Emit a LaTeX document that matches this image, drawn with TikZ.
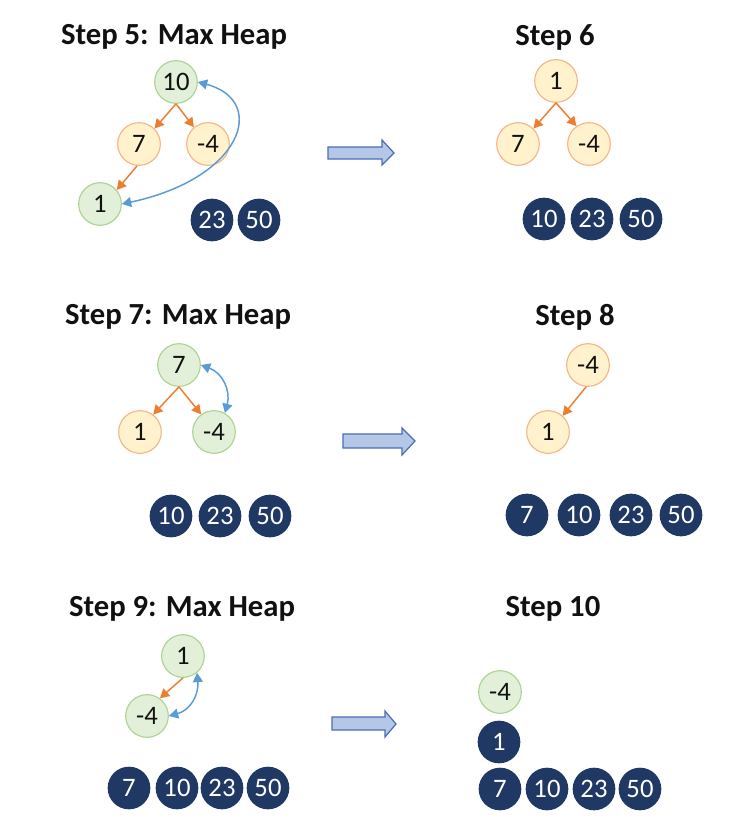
\documentclass[tikz,border=0pt]{standalone}
\usepackage{fontspec}
\setmainfont{Carlito}
\usepackage{xcolor}
\usetikzlibrary{arrows.meta,positioning}
\definecolor{Ink}{HTML}{111111}
\definecolor{LeafGreen}{HTML}{E2F0D9}
\definecolor{LeafGreenLine}{HTML}{A9D18E}
\definecolor{Cream}{HTML}{FFF2CC}
\definecolor{CreamLine}{HTML}{F4B183}
\definecolor{Navy}{HTML}{203864}
\definecolor{Pumpkin}{HTML}{ED7D31}
\definecolor{Sky}{HTML}{5B9BD5}
\definecolor{ArrowFill}{HTML}{B4C7E7}
\definecolor{ArrowLine}{HTML}{4A6DB5}
\tikzset{
  heapnode/.style={circle,minimum size=32pt,inner sep=0pt,line width=0.8pt,font=\fontsize{20}{22}\selectfont,text=Ink},
  swapnode/.style={heapnode,draw=LeafGreenLine,fill=LeafGreen},
  keepnode/.style={heapnode,draw=CreamLine,fill=Cream},
  donenode/.style={heapnode,fill=Navy,text=white},
  steptitle/.style={font=\fontsize{23}{26}\selectfont\bfseries,text=Ink},
  childarrow/.style={-{Triangle[length=7pt,width=7.5pt]},line width=1.1pt,draw=Pumpkin},
  swaparc/.style={{Triangle[length=7pt,width=7.5pt]}-{Triangle[length=7pt,width=7.5pt]},line width=1.1pt,draw=Sky},
  blockarrow/.style={draw=ArrowLine,fill=ArrowFill,line width=0.9pt,line join=miter}
}
\begin{document}
\begin{tikzpicture}[x=0.75pt,y=-0.75pt]
  \useasboundingbox (0,0) rectangle (753,832);
  % step 5
  \node[steptitle] (t5) at (174,37) {Step 5: Max Heap};
  \node[swapnode] (s5a) at (176,82) {10};
  \node[keepnode] (s5b) at (139,144) {7};
  \node[keepnode] (s5c) at (208,144) {-4};
  \node[swapnode] (s5d) at (100,204) {1};
  \node[donenode] (s5e) at (212,220) {23};
  \node[donenode] (s5f) at (259,220) {50};
  \draw[childarrow] (s5a.south) -- (s5b.45);
  \draw[childarrow] (s5a.south) -- (s5c.130);
  \draw[childarrow] (s5b.-95) -- (s5d.40);
  \draw[swaparc] (s5a.east) to[out=-15,in=12,out looseness=1.3,in looseness=2.2] (s5d.east);
  % step 6
  \node[steptitle] (t6) at (555,37) {Step 6};
  \node[keepnode] (s6a) at (556,81) {1};
  \node[keepnode] (s6b) at (518,144) {7};
  \node[keepnode] (s6c) at (589,144) {-4};
  \node[donenode] (s6d) at (544,219) {10};
  \node[donenode] (s6e) at (592,219) {23};
  \node[donenode] (s6f) at (641,219) {50};
  \draw[childarrow] (s6a.south) -- (s6b.45);
  \draw[childarrow] (s6a.south) -- (s6c.125);
  % step 7
  \node[steptitle] (t7) at (178,317) {Step 7: Max Heap};
  \node[swapnode] (s7a) at (179,365) {7};
  \node[keepnode] (s7b) at (140,432) {1};
  \node[swapnode] (s7c) at (214,432) {-4};
  \node[donenode] (s7d) at (171,516) {10};
  \node[donenode] (s7e) at (220,516) {23};
  \node[donenode] (s7f) at (270,516) {50};
  \draw[childarrow] (s7a.south) -- (s7b.53);
  \draw[childarrow] (s7a.south) -- (s7c.126);
  \draw[swaparc] (s7a.east) to[out=-20,in=75,looseness=1.1] (s7c.60);
  % step 8
  \node[steptitle] (t8) at (575,317) {Step 8};
  \node[keepnode] (s8a) at (588,365) {-4};
  \node[keepnode] (s8b) at (548,432) {1};
  \node[donenode] (s8c) at (527,515) {7};
  \node[donenode] (s8d) at (579,515) {10};
  \node[donenode] (s8e) at (631,515) {23};
  \node[donenode] (s8f) at (681,515) {50};
  \draw[childarrow] (s8a.-95) -- (s8b.48);
  % step 9
  \node[steptitle] (t9) at (182,609) {Step 9: Max Heap};
  \node[swapnode] (s9a) at (183,656) {1};
  \node[swapnode] (s9b) at (147,716) {-4};
  \node[donenode] (s9c) at (129,788) {7};
  \node[donenode] (s9d) at (177,788) {10};
  \node[donenode] (s9e) at (222,788) {23};
  \node[donenode] (s9f) at (268,788) {50};
  \draw[childarrow] (s9a.south) -- (s9b.54);
  \draw[swaparc] (s9a.-50) to[out=-85,in=15,looseness=1.1] (s9b.east);
  % step 10
  \node[steptitle] (t10) at (553,609) {Step 10};
  \node[swapnode] (s10a) at (500,692) {-4};
  \node[donenode] (s10b) at (499,742) {1};
  \node[donenode] (s10c) at (500,789) {7};
  \node[donenode] (s10d) at (547,789) {10};
  \node[donenode] (s10e) at (594,789) {23};
  \node[donenode] (s10f) at (640,789) {50};
  % block arrows between the columns
  \draw[blockarrow] (328,147) -- (382,147) -- (382,140) -- (394,153) -- (382,165) -- (382,159) -- (328,159) -- cycle;
  \draw[blockarrow] (343,434) -- (402,434) -- (402,428) -- (415,441) -- (402,455) -- (402,448) -- (343,448) -- cycle;
  \draw[blockarrow] (332,717) -- (385,717) -- (385,711) -- (396,724) -- (385,737) -- (385,730) -- (332,730) -- cycle;
\end{tikzpicture}
\end{document}
